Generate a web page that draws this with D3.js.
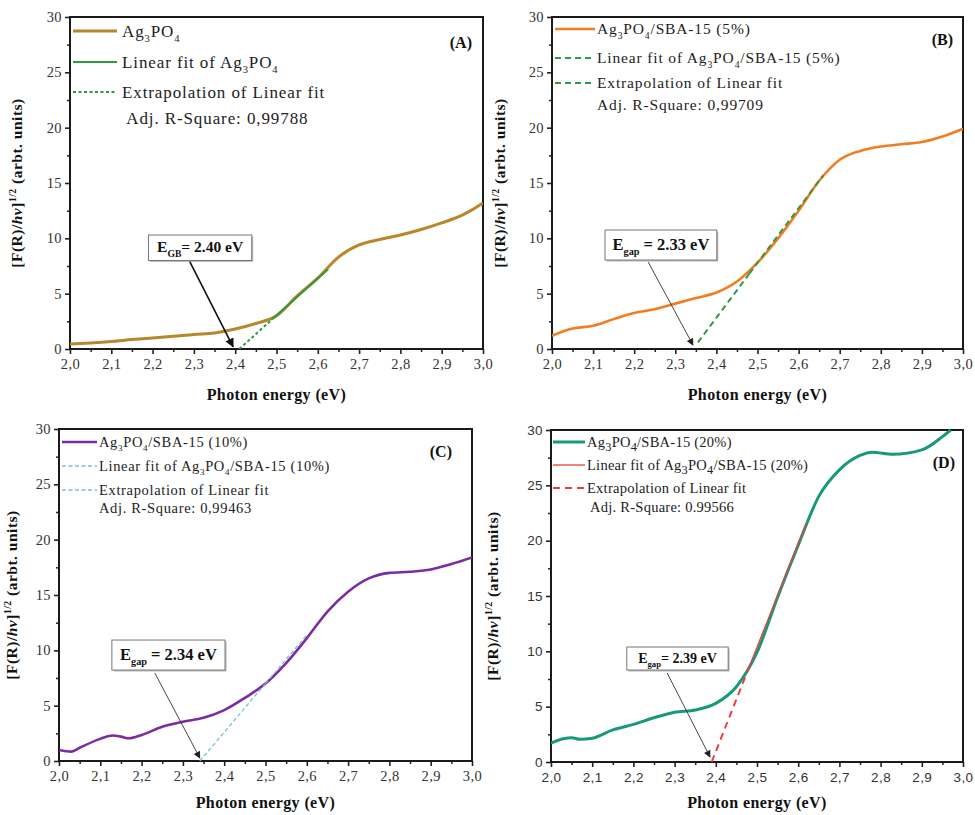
<!DOCTYPE html>
<html><head><meta charset="utf-8">
<script src="https://cdn.jsdelivr.net/npm/d3@7"></script>
<style>body{margin:0;background:#fff}</style>
</head><body><svg id="c" width="975" height="815"></svg>
<script>
// ---------------- DATA ----------------
const xTicks = [2.0, 2.1, 2.2, 2.3, 2.4, 2.5, 2.6, 2.7, 2.8, 2.9, 3.0];
const xTickLabels = ["2,0","2,1","2,2","2,3","2,4","2,5","2,6","2,7","2,8","2,9","3,0"];
const yTicks = [0, 5, 10, 15, 20, 25, 30];
const yTickLabels = ["0","5","10","15","20","25","30"];

const energyA = [2.0,2.05,2.1,2.15,2.2,2.25,2.3,2.35,2.4,2.45,2.5,2.55,2.6,2.65,2.7,2.75,2.8,2.85,2.9,2.95,2.97,3.0];
const valuesA = [0.45,0.55,0.68,0.85,1.0,1.15,1.32,1.45,1.8,2.3,3.0,4.8,6.4,8.3,9.4,9.9,10.3,10.8,11.4,12.1,12.5,13.2];
const fitEnergyA = [2.49, 2.625];
const fitValuesA = [2.7, 7.2];
const extEnergyA = [2.41, 2.49];
const extValuesA = [0, 2.7];

const energyB = [2.0,2.05,2.1,2.15,2.2,2.25,2.3,2.35,2.4,2.45,2.5,2.55,2.6,2.65,2.7,2.75,2.8,2.85,2.9,2.95,3.0];
const valuesB = [1.2,1.85,2.1,2.7,3.25,3.6,4.1,4.6,5.1,6.1,7.8,10.0,12.5,15.2,17.1,17.9,18.3,18.5,18.7,19.2,19.9];
const fitEnergyB = [2.48, 2.66];
const fitValuesB = [6.8, 15.7];
const extEnergyB = [2.355, 2.48];
const extValuesB = [0.6, 6.8];

const energyC = [2.0,2.03,2.05,2.1,2.13,2.15,2.17,2.2,2.25,2.3,2.35,2.4,2.45,2.5,2.55,2.6,2.65,2.7,2.75,2.8,2.85,2.9,2.95,3.0];
const valuesC = [1.0,0.85,1.2,2.0,2.3,2.2,2.05,2.35,3.1,3.55,3.9,4.6,5.7,7.0,8.85,11.1,13.5,15.3,16.5,17.0,17.1,17.3,17.8,18.4];
const fitEnergyC = [2.5, 2.6];
const fitValuesC = [7.0, 11.4];
const extEnergyC = [2.341, 2.5];
const extValuesC = [0, 7.0];

const energyD = [2.0,2.03,2.05,2.07,2.1,2.15,2.2,2.25,2.3,2.35,2.4,2.45,2.5,2.55,2.6,2.65,2.7,2.75,2.78,2.83,2.9,2.95,2.97];
const valuesD = [1.7,2.1,2.2,2.05,2.15,2.9,3.4,4.0,4.5,4.7,5.3,6.8,9.9,14.9,19.6,24.0,26.4,27.7,28.0,27.8,28.2,29.4,30.0];
const fitEnergyD = [2.48, 2.62];
const fitValuesD = [8.5, 21.6];
const extEnergyD = [2.39, 2.48];
const extValuesD = [0, 8.5];

const legendA = ["Ag_{3}PO_{4}", "Linear fit of Ag_{3}PO_{4}", "Extrapolation of Linear fit", " Adj. R-Square: 0,99788"];
const legendB = ["Ag_{3}PO_{4}/SBA-15 (5%)", "Linear fit of Ag_{3}PO_{4}/SBA-15 (5%)", "Extrapolation of Linear fit", "Adj. R-Square: 0,99709"];
const legendC = ["Ag_{3}PO_{4}/SBA-15 (10%)", "Linear fit of Ag_{3}PO_{4}/SBA-15 (10%)", "Extrapolation of Linear fit", "Adj. R-Square: 0,99463"];
const legendD = ["Ag_{3}PO_{4}/SBA-15 (20%)", "Linear fit of Ag_{3}PO_{4}/SBA-15 (20%)", "Extrapolation of Linear fit", " Adj. R-Square: 0.99566"];

const gapLabels = ["E_{GB}= 2.40 eV", "E_{gap} = 2.33 eV", "E_{gap} = 2.34 eV", "E_{gap}= 2.39 eV"];
const panelLetters = ["(A)", "(B)", "(C)", "(D)"];
const xTitle = "Photon energy (eV)";
const yTitle = "[F(R)/*{h}*{ν}]^{1/2} (arbt. units)";

// ---------------- HELPERS ----------------
function rich(t, str, fs, subScale) {
  const re = /([_^*])\{([^}]*)\}|([^_^*]+)/g;
  let cur = 0, m;
  while ((m = re.exec(str))) {
    let target = 0, txt, size = null, italic = false;
    if (m[3] !== undefined) { txt = m[3]; }
    else if (m[1] === '_') { txt = m[2]; target = fs * 0.32; size = fs * (subScale || 0.62); }
    else if (m[1] === '^') { txt = m[2]; target = -fs * 0.42; size = fs * 0.62; }
    else { txt = m[2]; italic = true; }
    const ts = t.append("tspan").text(txt);
    if (target !== cur) ts.attr("dy", target - cur);
    cur = target;
    if (size) ts.style("font-size", size + "px");
    if (italic) ts.style("font-style", "italic");
  }
}

const svg = d3.select("#c");
const defs = svg.append("defs");
function marker(id, color, w, h) {
  defs.append("marker").attr("id", id).attr("viewBox", "0 0 10 10")
    .attr("refX", 9).attr("refY", 5).attr("markerWidth", w).attr("markerHeight", h)
    .attr("markerUnits", "userSpaceOnUse").attr("orient", "auto")
    .append("path").attr("d", "M0,0 L10,5 L0,10 Z").attr("fill", color);
}
marker("arrBlack", "#111", 10, 9);
marker("arrGray", "#222", 8, 7);

const SERIF = "'Liberation Serif', 'Times New Roman', serif";
const SANS = "'Liberation Sans', Arial, sans-serif";

const panels = [
  { box:{l:70,t:17,r:483,b:349}, energy:energyA, values:valuesA, fitE:fitEnergyA, fitV:fitValuesA, extE:extEnergyA, extV:extValuesA,
    legend:legendA, color:"#b8862b", cw:3,
    fit:{color:"#2e9a3c", w:2, dash:null}, ext:{color:"#2e9a3c", w:2, dash:"3,2.5"},
    legFs:17, legLS:0.9, legRows:[14,45,75,101], legLine:[3,47], legTextX:52, legAdjX:52, legSub:0.62,
    tickFont:SERIF, tickFs:14.5, ylabX:-48, letterDx:-11, letterDy:31, titleDy:51,
    gap:{x0:2.19, x1:2.44, y0:10.3, y1:8.0, fs:15.5, ax:2.29, ay:7.9, tx:2.395, ty:0.2, arrow:"arrBlack", aw:1.6, ac:"#111"} },
  { box:{l:552,t:17,r:963,b:349}, energy:energyB, values:valuesB, fitE:fitEnergyB, fitV:fitValuesB, extE:extEnergyB, extV:extValuesB,
    legend:legendB, color:"#f47c20", cw:2.6,
    fit:{color:"#2e9a48", w:2, dash:"6,4"}, ext:{color:"#2e9a48", w:2, dash:"6,4"},
    legFs:15.5, legLS:0.85, legRows:[12,41,66,88], legLine:[3,43], legTextX:45, legAdjX:45, legSub:0.62,
    tickFont:SERIF, tickFs:14.5, ylabX:-47, letterDx:-10, letterDy:28, titleDy:51,
    gap:{x0:2.129, x1:2.401, y0:10.75, y1:8.04, fs:16.5, ax:2.234, ay:7.86, tx:2.343, ty:0.36, arrow:"arrGray", aw:0.9, ac:"#333"} },
  { box:{l:59,t:429,r:472,b:761}, energy:energyC, values:valuesC, fitE:fitEnergyC, fitV:fitValuesC, extE:extEnergyC, extV:extValuesC,
    legend:legendC, color:"#7a2ca0", cw:2.6,
    fit:{color:"#7fbcd8", w:1.3, dash:"4,2.5"}, ext:{color:"#7fbcd8", w:1.3, dash:"4,2.5"},
    legFs:14.5, legLS:0.65, legRows:[13,37,61,79], legLine:[3,38], legTextX:40, legAdjX:40, legSub:0.62,
    tickFont:SERIF, tickFs:14.5, ylabX:-42, letterDx:-20, letterDy:28, titleDy:47,
    gap:{x0:2.128, x1:2.402, y0:10.93, y1:8.22, fs:16.5, ax:2.232, ay:7.95, tx:2.341, ty:0.27, arrow:"arrGray", aw:0.9, ac:"#333"} },
  { box:{l:551,t:430,r:963,b:762}, energy:energyD, values:valuesD, fitE:fitEnergyD, fitV:fitValuesD, extE:extEnergyD, extV:extValuesD,
    legend:legendD, color:"#17997a", cw:3,
    fit:{color:"#e8403a", w:1.3, dash:null}, ext:{color:"#e8403a", w:2, dash:"7,5"},
    legFs:14.5, legLS:0.25, legRows:[12,35,58,77], legLine:[2,34], legTextX:36, legAdjX:36, legSub:0.85,
    tickFont:SANS, tickFs:13.5, ylabX:-53, letterDx:-8, letterDy:38, titleDy:46,
    gap:{x0:2.184, x1:2.430, y0:10.39, y1:8.31, fs:14, ax:2.282, ay:8.04, tx:2.386, ty:0.45, arrow:"arrGray", aw:0.9, ac:"#333"} }
];

panels.forEach((p, i) => {
  const b = p.box;
  const x = d3.scaleLinear().domain([2.0, 3.0]).range([b.l, b.r]);
  const y = d3.scaleLinear().domain([0, 30]).range([b.b, b.t]);
  const g = svg.append("g");

  const cid = "clip" + i;
  defs.append("clipPath").attr("id", cid).append("rect")
    .attr("x", b.l).attr("y", b.t - 1).attr("width", b.r - b.l).attr("height", b.b - b.t + 1);

  // minor ticks
  const minorX = d3.range(2.05, 3.0, 0.1);
  g.append("g").attr("transform", `translate(0,${b.b})`)
    .call(d3.axisBottom(x).tickValues(minorX).tickSize(3).tickFormat(""))
    .call(s => { s.select(".domain").remove(); s.selectAll("line").attr("stroke", "#222").attr("stroke-width", 1.5); });
  const minorY = d3.range(2.5, 30, 5);
  g.append("g").attr("transform", `translate(${b.l},0)`)
    .call(d3.axisLeft(y).tickValues(minorY).tickSize(3).tickFormat(""))
    .call(s => { s.select(".domain").remove(); s.selectAll("line").attr("stroke", "#222").attr("stroke-width", 1.5); });

  // major axes
  const xa = g.append("g").attr("transform", `translate(0,${b.b})`)
    .call(d3.axisBottom(x).tickValues(xTicks).tickSize(5).tickPadding(5).tickFormat((d, k) => xTickLabels[k]));
  const ya = g.append("g").attr("transform", `translate(${b.l},0)`)
    .call(d3.axisLeft(y).tickValues(yTicks).tickSize(5).tickPadding(3).tickFormat((d, k) => yTickLabels[k]));
  [xa, ya].forEach(a => {
    a.attr("font-family", null).attr("font-size", null);
    a.select(".domain").remove();
    a.selectAll("line").attr("stroke", "#222").attr("stroke-width", 1.6);
    a.selectAll("text").style("font-family", p.tickFont).style("font-size", p.tickFs + "px")
      .attr("fill", "#333").style("letter-spacing", "0.4px");
  });

  // frame
  g.append("rect").attr("x", b.l).attr("y", b.t).attr("width", b.r - b.l).attr("height", b.b - b.t)
    .attr("fill", "none").attr("stroke", "#1a1a1a").attr("stroke-width", 2);

  const line = d3.line().x(d => x(d[0])).y(d => y(d[1])).curve(d3.curveMonotoneX);
  const plot = g.append("g").attr("clip-path", `url(#${cid})`);
  plot.append("path").datum(p.energy.map((e, k) => [e, p.values[k]]))
    .attr("d", line).attr("fill", "none").attr("stroke", p.color).attr("stroke-width", p.cw)
    .attr("stroke-linejoin", "round");
  const lin = d3.line().x(d => x(d[0])).y(d => y(d[1]));
  plot.append("path").datum(p.extE.map((e, k) => [e, p.extV[k]]))
    .attr("d", lin).attr("fill", "none").attr("stroke", p.ext.color).attr("stroke-width", p.ext.w)
    .attr("stroke-dasharray", p.ext.dash);
  plot.append("path").datum(p.fitE.map((e, k) => [e, p.fitV[k]]))
    .attr("d", lin).attr("fill", "none").attr("stroke", p.fit.color).attr("stroke-width", p.fit.w)
    .attr("stroke-dasharray", p.fit.dash);

  // legend
  const styles = [{color:p.color, w:p.cw, dash:null}, p.fit, p.ext];
  styles.forEach((st, k) => {
    const yy = b.t + p.legRows[k];
    g.append("line").attr("x1", b.l + p.legLine[0]).attr("x2", b.l + p.legLine[1])
      .attr("y1", yy).attr("y2", yy).attr("stroke", st.color).attr("stroke-width", st.w)
      .attr("stroke-dasharray", st.dash);
    const t = g.append("text").attr("x", b.l + p.legTextX).attr("y", yy + p.legFs * 0.33)
      .style("font-family", SERIF).style("font-size", p.legFs + "px").style("letter-spacing", p.legLS + "px")
      .attr("fill", "#222");
    rich(t, p.legend[k], p.legFs, p.legSub);
  });
  const ta = g.append("text").attr("x", b.l + p.legAdjX).attr("y", b.t + p.legRows[3] + p.legFs * 0.33)
    .style("font-family", SERIF).style("font-size", p.legFs + "px").style("letter-spacing", p.legLS + "px")
    .style("white-space", "pre").attr("fill", "#222");
  rich(ta, p.legend[3], p.legFs);

  // panel letter
  g.append("text").attr("x", b.r + p.letterDx).attr("y", b.t + p.letterDy).attr("text-anchor", "end")
    .style("font-family", SERIF).style("font-weight", "bold").style("font-size", "16px").attr("fill", "#111")
    .text(panelLetters[i]);

  // axis titles
  g.append("text").attr("x", (b.l + b.r) / 2).attr("y", b.b + p.titleDy).attr("text-anchor", "middle")
    .style("font-family", SERIF).style("font-weight", "bold").style("font-size", "16px")
    .style("letter-spacing", "0.4px").attr("fill", "#111")
    .text(xTitle);
  const yt = g.append("text").attr("transform", `translate(${b.l + p.ylabX},${(b.t + b.b) / 2}) rotate(-90)`)
    .attr("text-anchor", "middle").style("font-family", SERIF).style("font-weight", "bold")
    .style("font-size", "15.5px").style("letter-spacing", "0.5px").attr("fill", "#111");
  rich(yt, yTitle, 15.5);

  // gap annotation
  const a = p.gap;
  const bx0 = x(a.x0), bx1 = x(a.x1), by0 = y(a.y0), by1 = y(a.y1);
  g.append("rect").attr("x", bx0 + 1.5).attr("y", by0 + 1.5).attr("width", bx1 - bx0).attr("height", by1 - by0)
    .attr("fill", "#bbb");
  g.append("rect").attr("x", bx0).attr("y", by0).attr("width", bx1 - bx0).attr("height", by1 - by0)
    .attr("fill", "#fff").attr("stroke", "#777").attr("stroke-width", 1);
  const gt = g.append("text").attr("x", (bx0 + bx1) / 2).attr("y", (by0 + by1) / 2 + a.fs * 0.3)
    .attr("text-anchor", "middle").style("font-family", SERIF).style("font-weight", "bold")
    .style("font-size", a.fs + "px").attr("fill", "#111");
  rich(gt, gapLabels[i], a.fs);
  g.append("line").attr("x1", x(a.ax)).attr("y1", y(a.ay)).attr("x2", x(a.tx)).attr("y2", y(a.ty))
    .attr("stroke", a.ac).attr("stroke-width", a.aw).attr("marker-end", `url(#${a.arrow})`);
});
</script>
</body></html>
